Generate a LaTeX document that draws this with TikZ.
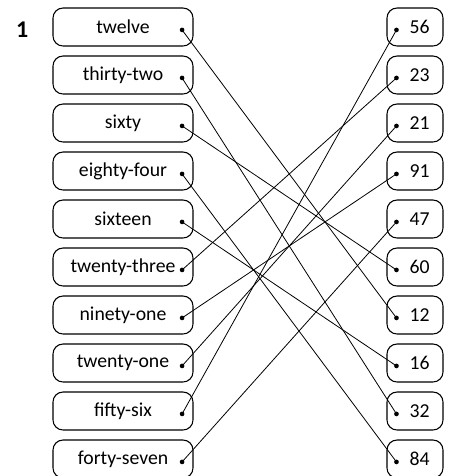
\documentclass[tikz,border=0pt]{standalone}
\usepackage{fontspec}
\setmainfont{Carlito}
\usetikzlibrary{positioning}
\tikzset{
    word/.style =   {rectangle,
                    rounded corners=7.5pt,
                    fill=white,
                    draw=black,
                    text=black,
                    line width=0.8pt,
                    minimum width=105pt,
                    minimum height=28.5pt,
                    inner sep=0pt},
    num/.style =    {rectangle,
                    rounded corners=7.5pt,
                    fill=white,
                    draw=black,
                    text=black,
                    line width=0.8pt,
                    minimum width=42pt,
                    minimum height=28.5pt,
                    inner sep=0pt},
    dot/.style =    {circle,
                    fill=black,
                    draw=none,
                    inner sep=0pt,
                    minimum size=3.5pt},
    link/.style =   {draw=black,
                    line width=0.6pt},
    node distance=36pt}

\begin{document}
\begin{tikzpicture}[font=\fontsize{14.8}{17}\selectfont]
        \useasboundingbox (-92.25pt,20.25pt) rectangle (246pt,-336.75pt);
        \node[font=\fontsize{18}{20}\selectfont\bfseries] (no) at (-75.5pt,-2.2pt) {1};

        % words
        \node[word]     (w1) at (0,0)           {twelve};
        \node[word]     (w2) [below of=w1]      {thirty-two};
        \node[word]     (w3) [below of=w2]      {sixty};
        \node[word]     (w4) [below of=w3]      {eighty-four};
        \node[word]     (w5) [below of=w4]      {sixteen};
        \node[word]     (w6) [below of=w5]      {twenty-three\hspace{8pt}};
        \node[word]     (w7) [below of=w6]      {ninety-one};
        \node[word]     (w8) [below of=w7]      {twenty-one};
        \node[word]     (w9) [below of=w8]      {fifty-six};
        \node[word]     (w10) [below of=w9]     {forty-seven};

        % numbers
        \node[num]      (n1) at (219pt,0)       {\hspace{7pt}56};
        \node[num]      (n2) [below of=n1]      {\hspace{7pt}23};
        \node[num]      (n3) [below of=n2]      {\hspace{7pt}21};
        \node[num]      (n4) [below of=n3]      {\hspace{7pt}91};
        \node[num]      (n5) [below of=n4]      {\hspace{7pt}47};
        \node[num]      (n6) [below of=n5]      {\hspace{7pt}60};
        \node[num]      (n7) [below of=n6]      {\hspace{7pt}12};
        \node[num]      (n8) [below of=n7]      {\hspace{7pt}16};
        \node[num]      (n9) [below of=n8]      {\hspace{7pt}32};
        \node[num]      (n10) [below of=n9]     {\hspace{7pt}84};

        % dots
        \node[dot, xshift=-8.6pt, yshift=-2.2pt]  (a1) at (w1.east) {};
        \node[dot, xshift=-8.6pt, yshift=-2.2pt]  (a2) at (w2.east) {};
        \node[dot, xshift=-8.6pt, yshift=-2.2pt]  (a3) at (w3.east) {};
        \node[dot, xshift=-8.6pt, yshift=-2.2pt]  (a4) at (w4.east) {};
        \node[dot, xshift=-8.6pt, yshift=-2.2pt]  (a5) at (w5.east) {};
        \node[dot, xshift=-8.6pt, yshift=-2.2pt]  (a6) at (w6.east) {};
        \node[dot, xshift=-8.6pt, yshift=-2.2pt]  (a7) at (w7.east) {};
        \node[dot, xshift=-8.6pt, yshift=-2.2pt]  (a8) at (w8.east) {};
        \node[dot, xshift=-8.6pt, yshift=-2.2pt]  (a9) at (w9.east) {};
        \node[dot, xshift=-8.6pt, yshift=-2.2pt]  (a10) at (w10.east) {};
        \node[dot, xshift=7.5pt, yshift=-2.2pt]   (b1) at (n1.west) {};
        \node[dot, xshift=7.5pt, yshift=-2.2pt]   (b2) at (n2.west) {};
        \node[dot, xshift=7.5pt, yshift=-2.2pt]   (b3) at (n3.west) {};
        \node[dot, xshift=7.5pt, yshift=-2.2pt]   (b4) at (n4.west) {};
        \node[dot, xshift=7.5pt, yshift=-2.2pt]   (b5) at (n5.west) {};
        \node[dot, xshift=7.5pt, yshift=-2.2pt]   (b6) at (n6.west) {};
        \node[dot, xshift=7.5pt, yshift=-2.2pt]   (b7) at (n7.west) {};
        \node[dot, xshift=7.5pt, yshift=-2.2pt]   (b8) at (n8.west) {};
        \node[dot, xshift=7.5pt, yshift=-2.2pt]   (b9) at (n9.west) {};
        \node[dot, xshift=7.5pt, yshift=-2.2pt]   (b10) at (n10.west) {};

        \path [link]    (a1.center) edge (b7.center)
                        (a2.center) edge (b9.center)
                        (a3.center) edge (b6.center)
                        (a4.center) edge (b10.center)
                        (a5.center) edge (b8.center)
                        (a6.center) edge (b2.center)
                        (a7.center) edge (b4.center)
                        (a8.center) edge (b3.center)
                        (a9.center) edge (b1.center)
                        (a10.center) edge (b5.center);
\end{tikzpicture}
\end{document}
